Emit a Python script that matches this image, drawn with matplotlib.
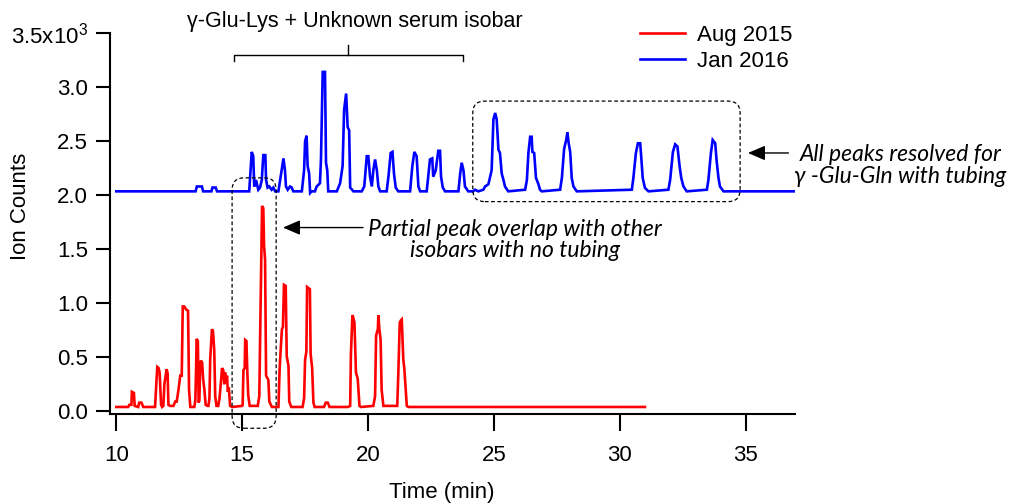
import matplotlib
matplotlib.use('Agg')
import matplotlib.pyplot as plt
from matplotlib.patches import FancyBboxPatch

plt.rcParams['font.family'] = ['Liberation Sans', 'DejaVu Sans']
plt.rcParams['mathtext.fontset'] = 'custom'
plt.rcParams['mathtext.rm'] = 'Liberation Sans'
plt.rcParams['mathtext.it'] = 'Liberation Sans:italic'

# Aug 2015 trace (no tubing), time in min, counts in 1e3
aug_time = [10.00, 10.47, 10.52, 10.60, 10.62, 10.70, 10.73, 10.87, 10.91, 11.00, 11.07,
            11.54, 11.60, 11.63, 11.68, 11.72, 11.78, 11.82, 11.87, 11.91, 12.00, 12.04,
            12.07, 12.14, 12.27, 12.34, 12.40, 12.47, 12.54, 12.60, 12.64, 12.70, 12.78,
            12.85, 12.89, 12.94,
            13.10, 13.14, 13.17, 13.19, 13.24, 13.27, 13.30, 13.33, 13.36, 13.41, 13.45,
            13.50, 13.55, 13.62,
            13.66, 13.70, 13.73, 13.80, 13.84, 13.89, 13.93, 13.98,
            14.05, 14.10, 14.16, 14.20, 14.25, 14.29, 14.32, 14.36, 14.40, 14.43, 14.47,
            14.52, 14.60, 15.00,
            15.02, 15.05, 15.10, 15.12, 15.17, 15.20, 15.24, 15.30,
            15.62, 15.68, 15.74, 15.79, 15.84, 15.87, 15.91, 15.95, 16.04, 16.08, 16.18,
            16.44, 16.49, 16.53, 16.58, 16.62, 16.66, 16.73, 16.77, 16.84, 16.87, 16.95,
            17.40, 17.46, 17.50, 17.55, 17.58, 17.69, 17.72, 17.78, 17.83, 17.88,
            18.25, 18.32, 18.40, 18.47,
            19.20, 19.29, 19.32, 19.38, 19.41, 19.46, 19.52, 19.59, 19.66, 19.72,
            20.21, 20.28, 20.32, 20.39, 20.41, 20.45, 20.50, 20.54, 20.61,
            21.16, 21.20, 21.26, 21.30, 21.34, 21.40, 21.44, 21.54, 21.60,
            31.00]
aug_counts = [0.04, 0.04, 0.06, 0.06, 0.18, 0.17, 0.05, 0.04, 0.08, 0.08, 0.04,
              0.04, 0.30, 0.41, 0.40, 0.36, 0.06, 0.04, 0.05, 0.25, 0.39, 0.35,
              0.06, 0.05, 0.05, 0.09, 0.09, 0.20, 0.33, 0.33, 0.97, 0.97, 0.94,
              0.93, 0.20, 0.04,
              0.04, 0.10, 0.40, 0.67, 0.65, 0.08, 0.10, 0.40, 0.47, 0.45, 0.30,
              0.20, 0.06, 0.05,
              0.05, 0.12, 0.48, 0.76, 0.74, 0.57, 0.14, 0.05,
              0.05, 0.12, 0.28, 0.40, 0.38, 0.25, 0.36, 0.30, 0.33, 0.18, 0.22,
              0.05, 0.04, 0.05,
              0.06, 0.38, 0.40, 0.66, 0.65, 0.40, 0.15, 0.05,
              0.05, 0.14, 1.13, 1.90, 1.88, 1.53, 1.40, 0.33, 0.29, 0.09, 0.04,
              0.04, 0.40, 0.57, 0.76, 0.78, 1.17, 1.16, 0.51, 0.42, 0.09, 0.04,
              0.04, 0.12, 0.48, 0.55, 1.15, 1.13, 0.53, 0.40, 0.08, 0.04,
              0.04, 0.08, 0.08, 0.04,
              0.04, 0.05, 0.53, 0.89, 0.87, 0.82, 0.36, 0.30, 0.05, 0.04,
              0.05, 0.14, 0.70, 0.76, 0.89, 0.76, 0.66, 0.20, 0.05,
              0.05, 0.33, 0.82, 0.84, 0.85, 0.48, 0.40, 0.05, 0.04,
              0.04]

# Jan 2016 trace (with tubing), offset upwards
jan_time = [10.00, 13.15, 13.20, 13.40, 13.45, 13.78, 13.82, 13.95, 14.00, 15.28,
            15.31, 15.38, 15.44, 15.48, 15.55, 15.64, 15.71, 15.78, 15.84, 15.92, 15.95,
            16.01, 16.08, 16.17, 16.24, 16.31,
            16.44, 16.53, 16.64, 16.70, 16.74, 16.81, 16.90, 16.97, 17.03,
            17.37, 17.46, 17.50, 17.56, 17.60, 17.66, 17.70, 17.76,
            17.89, 17.96, 18.09, 18.13, 18.20, 18.29, 18.33, 18.38, 18.42,
            18.76, 18.89, 18.99, 19.05, 19.13, 19.19, 19.25, 19.29, 19.42,
            19.75, 19.85, 19.95, 20.01, 20.08, 20.15, 20.21, 20.28, 20.35, 20.41, 20.48,
            20.74, 20.81, 20.90, 20.97, 21.03, 21.10, 21.20,
            21.67, 21.76, 21.84, 21.93, 22.00, 22.07,
            22.33, 22.46, 22.55, 22.59, 22.69, 22.79, 22.86, 22.90, 22.97, 23.06,
            23.59, 23.66, 23.72, 23.79, 23.85, 23.98,
            24.18, 24.25, 24.38, 24.58, 24.65, 24.78, 24.91, 24.98, 25.05, 25.11, 25.18,
            25.24, 25.31, 25.38, 25.44, 25.57,
            26.24, 26.31, 26.37, 26.44, 26.50, 26.53, 26.60, 26.67, 26.77, 26.83, 26.90,
            27.63, 27.70, 27.79, 27.87, 27.92, 27.97, 28.03, 28.09, 28.16, 28.29,
            30.48, 30.54, 30.64, 30.72, 30.81, 30.85, 30.91, 31.00, 31.14,
            31.93, 32.00, 32.11, 32.20, 32.29, 32.37, 32.44, 32.53, 32.66,
            33.46, 33.52, 33.62, 33.69, 33.79, 33.85, 33.92, 33.98, 34.12,
            36.96]
jan_counts = [2.035, 2.035, 2.08, 2.08, 2.035, 2.035, 2.07, 2.07, 2.035, 2.035,
              2.14, 2.40, 2.36, 2.08, 2.14, 2.05, 2.07, 2.14, 2.37, 2.37, 2.14,
              2.07, 2.08, 2.05, 2.07, 2.035,
              2.035, 2.17, 2.34, 2.23, 2.08, 2.05, 2.08, 2.07, 2.035,
              2.035, 2.23, 2.50, 2.55, 2.27, 2.20, 2.02, 2.035,
              2.035, 2.08, 2.11, 2.33, 3.14, 3.14, 2.30, 2.23, 2.035,
              2.035, 2.11, 2.27, 2.79, 2.94, 2.63, 2.60, 2.07, 2.035,
              2.035, 2.08, 2.36, 2.36, 2.17, 2.08, 2.23, 2.33, 2.23, 2.08, 2.035,
              2.035, 2.17, 2.39, 2.40, 2.20, 2.07, 2.035,
              2.035, 2.27, 2.40, 2.36, 2.08, 2.035,
              2.035, 2.33, 2.34, 2.17, 2.23, 2.41, 2.41, 2.17, 2.07, 2.035,
              2.035, 2.20, 2.30, 2.23, 2.08, 2.035,
              2.035, 2.05, 2.035, 2.05, 2.08, 2.10, 2.23, 2.70, 2.76, 2.70, 2.42,
              2.39, 2.20, 2.14, 2.08, 2.035,
              2.05, 2.14, 2.39, 2.54, 2.54, 2.40, 2.39, 2.16, 2.10, 2.05, 2.035,
              2.05, 2.16, 2.43, 2.51, 2.58, 2.48, 2.40, 2.16, 2.08, 2.035,
              2.05, 2.16, 2.39, 2.48, 2.48, 2.36, 2.16, 2.066, 2.035,
              2.05, 2.14, 2.40, 2.47, 2.45, 2.28, 2.16, 2.08, 2.035,
              2.05, 2.14, 2.39, 2.51, 2.48, 2.31, 2.16, 2.08, 2.035,
              2.035]

x_ticks = [10, 15, 20, 25, 30, 35]
y_ticks = [0.0, 0.5, 1.0, 1.5, 2.0, 2.5, 3.0, 3.5]
y_ticklabels = ['0.0', '0.5', '1.0', '1.5', '2.0', '2.5', '3.0', '3.5x10$^{3}$']

W, H = 1014, 504
fig = plt.figure(figsize=(W / 100, H / 100), dpi=100)
ax = fig.add_axes([110 / W, 1 - 414 / H, 685 / W, 381 / H])

ax.plot(aug_time, aug_counts, color='#ff0000', lw=1.9, label='Aug 2015', solid_joinstyle='miter')
ax.plot(jan_time, jan_counts, color='#0000ff', lw=1.9, label='Jan 2016', solid_joinstyle='miter')

ax.set_xlim(9.75, 36.96)
ax.set_ylim(-0.025, 3.5)
for s in ['top', 'right']:
    ax.spines[s].set_visible(False)
for s in ['left', 'bottom']:
    ax.spines[s].set_linewidth(1.5)

ax.set_xticks(x_ticks)
ax.set_yticks(y_ticks)
ax.set_yticklabels(y_ticklabels)
ax.tick_params(axis='x', direction='out', length=12, width=1.5, pad=10, labelsize=16)
ax.tick_params(axis='y', direction='out', length=10, width=1.5, pad=6, labelsize=16)

ax.set_xlabel('Time (min)', fontsize=16)
ax.xaxis.set_label_coords(0.485, -0.178)
ax.set_ylabel('Ion Counts', fontsize=16)
ax.yaxis.set_label_coords(-0.115, 0.545)

ax.legend(loc='upper left', bbox_to_anchor=(0.774, 1.022), frameon=False, fontsize=16,
          handlelength=2.0, handletextpad=0.55, labelspacing=0.25, borderpad=0, borderaxespad=0)

# bracket + label over the gamma-Glu-Lys region
ax.plot([14.68, 14.68, 23.77, 23.77], [3.24, 3.30, 3.30, 3.24], color='black', lw=1.0, clip_on=False)
ax.plot([19.2, 19.2], [3.30, 3.39], color='black', lw=1.0, clip_on=False)
ax.text(19.48, 3.61, 'γ-Glu-Lys + Unknown serum isobar', ha='center', va='center', fontsize=15.5)

# dashed boxes
asp = 25.17 / 108.3
box_style = dict(boxstyle='round,pad=0,rounding_size=0.48', mutation_aspect=asp, fill=False,
                 ec='black', lw=0.9, ls=(0, (3, 2)), zorder=3, clip_on=False)
ax.add_patch(FancyBboxPatch((14.60, -0.157), 16.35 - 14.60, 2.16 + 0.157, **box_style))
ax.add_patch(FancyBboxPatch((24.16, 1.94), 34.78 - 24.16, 2.87 - 1.94, **box_style))

arrow = dict(arrowstyle='-|>,head_length=0.7,head_width=0.3', color='black', lw=1.0,
             shrinkA=0, shrinkB=0, mutation_scale=15)
ax.annotate('', xy=(16.62, 1.70), xytext=(19.80, 1.70), arrowprops=arrow, annotation_clip=False)
ax.annotate('', xy=(35.09, 2.39), xytext=(36.70, 2.39), arrowprops=arrow, annotation_clip=False)

note_font = dict(family=['Lato', 'DejaVu Sans'], style='italic', fontsize=16.5)
ax.text(25.85, 1.585, 'Partial peak overlap with other\nisobars with no tubing',
        ha='center', va='center', linespacing=1.05, **note_font)
ax.text(41.14, 2.275, 'All peaks resolved for\nγ -Glu-Gln with tubing',
        ha='center', va='center', linespacing=1.05, **note_font)

fig.savefig('out.png', dpi=100)
